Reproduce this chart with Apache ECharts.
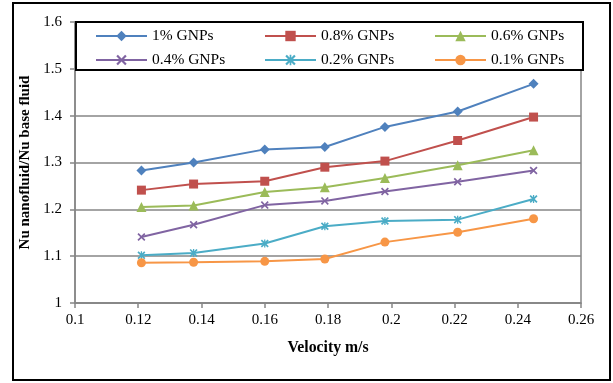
<html>
<head>
    <meta charset="utf-8">
    <title>Chart</title>
    <script src="https://cdn.jsdelivr.net/npm/echarts@6/dist/echarts.min.js"></script>
    <style>
        html, body { margin: 0; padding: 0; background: #fff; }
    </style>
</head>
<body>
    <div id="main" style="width: 613px; height: 383px;"></div>
    <script type="text/javascript">
        // data
        var velocity = [0.121, 0.1375, 0.16, 0.179, 0.198, 0.221, 0.245];
        var seriesNames = ['1% GNPs', '0.8% GNPs', '0.6% GNPs', '0.4% GNPs', '0.2% GNPs', '0.1% GNPs'];
        var gnp1  = [1.283, 1.300, 1.328, 1.333, 1.376, 1.409, 1.468];
        var gnp08 = [1.241, 1.254, 1.260, 1.290, 1.303, 1.347, 1.397];
        var gnp06 = [1.205, 1.208, 1.237, 1.247, 1.267, 1.294, 1.326];
        var gnp04 = [1.141, 1.167, 1.209, 1.218, 1.238, 1.259, 1.283];
        var gnp02 = [1.102, 1.107, 1.127, 1.164, 1.175, 1.178, 1.222];
        var gnp01 = [1.086, 1.087, 1.089, 1.094, 1.130, 1.151, 1.180];
        var allValues = [gnp1, gnp08, gnp06, gnp04, gnp02, gnp01];

        var colors = ['#4F81BD', '#C0504D', '#9BBB59', '#8064A2', '#4BACC6', '#F79646'];
        var font = 'Liberation Serif';

        // x and asterisk markers as filled paths
        var xMark = 'path://M0,1.5L1.5,0L5,3.5L8.5,0L10,1.5L6.5,5L10,8.5L8.5,10L5,6.5L1.5,10L0,8.5L3.5,5Z';
        var starMark = xMark + 'M4.2,0L5.8,0L5.8,10L4.2,10Z';
        var symbols = ['diamond', 'rect', 'triangle', xMark, starMark, 'circle'];
        var sizes = [10, 9, 10, 8, 8, 9];

        var myChart = echarts.init(document.getElementById('main'));

        var series = [];
        var legends = [];
        var legendX = [95, 264, 434];
        var legendY = [28, 52];
        for (var i = 0; i < seriesNames.length; i++) {
            var pts = [];
            for (var j = 0; j < velocity.length; j++) pts.push([velocity[j], allValues[i][j]]);
            series.push({
                name: seriesNames[i],
                type: 'line',
                data: pts,
                symbol: symbols[i],
                symbolSize: sizes[i],
                showAllSymbol: true,
                lineStyle: { color: colors[i], width: 2 },
                itemStyle: { color: colors[i] },
                z: 2
            });
            legends.push({
                data: [seriesNames[i]],
                left: legendX[i % 3],
                top: legendY[Math.floor(i / 3)],
                padding: 0,
                itemWidth: 51,
                itemHeight: 13,
                selectedMode: false,
                textStyle: { fontFamily: font, fontSize: 15.5, color: '#000' }
            });
        }

        var option = {
            animation: false,
            backgroundColor: '#fff',
            grid: {
                left: 75, right: 32, top: 22, bottom: 80,
                containLabel: false,
                outerBoundsMode: 'none',
                show: true,
                borderColor: '#868686',
                borderWidth: 1.5
            },
            legend: legends,
            graphic: [
                {
                    type: 'rect',
                    shape: { x: 13, y: 3, width: 597, height: 377 },
                    style: { fill: 'none', stroke: '#000', lineWidth: 2 },
                    z: 0
                },
                {
                    type: 'rect',
                    shape: { x: 76, y: 22, width: 507, height: 48 },
                    style: { fill: '#fff', stroke: '#000', lineWidth: 2 },
                    z: 3
                }
            ],
            xAxis: {
                type: 'value',
                min: 0.1,
                max: 0.26,
                interval: 0.02,
                name: 'Velocity m/s',
                nameLocation: 'middle',
                nameGap: 37,
                nameTextStyle: { fontFamily: font, fontSize: 15.75, fontWeight: 'bold', color: '#000' },
                axisLine: { lineStyle: { color: '#868686', width: 1.5 } },
                axisTick: { show: true, length: 5, lineStyle: { color: '#868686', width: 1.5 } },
                axisLabel: { fontFamily: font, fontSize: 15, color: '#000', margin: 10 },
                splitLine: { show: false }
            },
            yAxis: {
                type: 'value',
                min: 1,
                max: 1.6,
                interval: 0.1,
                name: 'Nu nanofluid/Nu base fluid',
                nameLocation: 'middle',
                nameGap: 42,
                nameTextStyle: { fontFamily: font, fontSize: 15, fontWeight: 'bold', color: '#000' },
                axisLine: { show: true, lineStyle: { color: '#868686', width: 1.5 } },
                axisTick: { show: true, length: 5, lineStyle: { color: '#868686', width: 1.5 } },
                axisLabel: { fontFamily: font, fontSize: 15, color: '#000', margin: 13 },
                splitLine: { show: true, lineStyle: { color: '#868686', width: 1.5 } }
            },
            series: series
        };
        myChart.setOption(option);
    </script>
</body>
</html>
